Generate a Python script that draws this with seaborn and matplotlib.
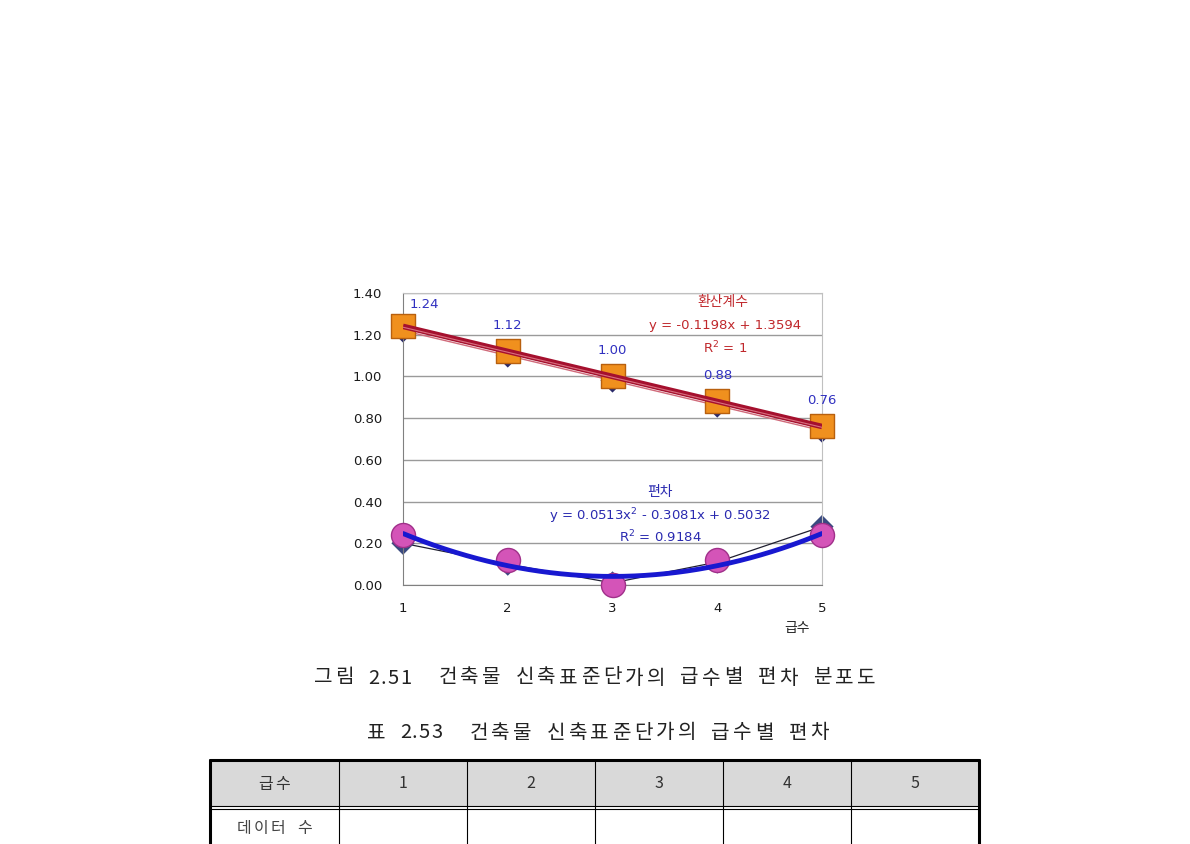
import numpy as np
import pandas as pd
import seaborn as sns
import matplotlib.pyplot as plt
from matplotlib.patches import Rectangle

# 급수별 값
grades = [1, 2, 3, 4, 5]
factor = [1.24, 1.12, 1.00, 0.88, 0.76]          # 환산계수 (orange squares)
factor_raw = [1.22, 1.10, 0.98, 0.86, 0.74]      # dark diamonds behind the squares
deviation = [0.24, 0.12, 0.00, 0.12, 0.24]       # 편차 (pink circles)
deviation_raw = [0.20, 0.10, 0.01, 0.11, 0.28]   # dark diamonds behind the circles
factor_labels = ["1.24", "1.12", "1.00", "0.88", "0.76"]

caption_fig = "그림 2.51  건축물 신축표준단가의 급수별 편차 분포도"
caption_tab = "표 2.53  건축물 신축표준단가의 급수별 편차"
table_head = ["급수", "1", "2", "3", "4", "5"]
table_row = ["데이터 수", "", "", "", "", ""]

sns.set_style("white")
plt.rcParams['font.family'] = ['Noto Sans CJK KR', 'DejaVu Sans']

df = pd.DataFrame({"급수": grades, "환산계수": factor, "f_raw": factor_raw,
                   "편차": deviation, "d_raw": deviation_raw})

fig = plt.figure(figsize=(11.9, 8.44), dpi=100)

# ---- page layer (captions + table) in pixel coordinates ----
page = fig.add_axes([0, 0, 1, 1])
page.set_xlim(0, 1190)
page.set_ylim(844, 0)
page.axis('off')


def tracked(s, x0, y, size, hangul=21, space=12, digit=13, dot=6, center=False, **kw):
    # the scanned document uses wide letter spacing, place glyph by glyph
    adv = []
    for ch in s:
        if ch == ' ':
            adv.append(space)
        elif ch == '.':
            adv.append(dot)
        elif ch.isdigit():
            adv.append(digit)
        else:
            adv.append(hangul)
    if center:
        x0 = x0 - sum(adv) / 2
    x = x0
    for ch, a in zip(s, adv):
        if ch != ' ':
            page.text(x + a / 2, y, ch, ha='center', va='center', fontsize=size, **kw)
        x += a


tracked(caption_fig, 312, 678, 14.5, hangul=21.8, color='#222222')
tracked(caption_tab, 365, 733, 14.5, hangul=21.8, color='#222222')

col_edges = [210, 339, 467, 595, 723, 851, 979]
page.add_patch(Rectangle((210, 760), 769, 46, facecolor='#d9d9d9', edgecolor='none'))
page.plot([210, 979], [760, 760], color='black', lw=2.2)
page.plot([210, 210], [760, 844], color='black', lw=2.2)
page.plot([979, 979], [760, 844], color='black', lw=2.2)
for xe in col_edges[1:-1]:
    page.plot([xe, xe], [760, 844], color='black', lw=0.8)
page.plot([210, 979], [806, 806], color='black', lw=0.8)
page.plot([210, 979], [809, 809], color='black', lw=0.8)
for i in range(len(table_head)):
    cx = (col_edges[i] + col_edges[i + 1]) / 2
    tracked(table_head[i], cx, 784, 11.5, hangul=17, space=10, digit=10,
            center=True, color='#333333')
    tracked(table_row[i], cx, 828, 11.5, hangul=17, space=10, digit=10,
            center=True, color='#444444')

# ---- chart ----
ax = fig.add_axes([403 / 1190, 259 / 844, 419 / 1190, 292 / 844])

# original series (diamonds + thin lines), mostly hidden behind the markers
sns.lineplot(data=df, x="급수", y="f_raw", ax=ax, color='#d06a7a', lw=1, zorder=2)
sns.scatterplot(data=df, x="급수", y="f_raw", ax=ax, marker='D', s=150,
                color='#2a2a6a', edgecolor='none', zorder=2, clip_on=False)
sns.lineplot(data=df, x="급수", y="d_raw", ax=ax, color='#202030', lw=0.9, zorder=2)
sns.scatterplot(data=df, x="급수", y="d_raw", ax=ax, marker='D', s=140,
                color='#3a4a80', edgecolor='none', zorder=2, clip_on=False)

# visible series
sns.scatterplot(data=df, x="급수", y="환산계수", ax=ax, marker='s', s=300,
                color='#f0901e', edgecolor='#b8600e', linewidth=1, zorder=3, clip_on=False)
sns.scatterplot(data=df, x="급수", y="편차", ax=ax, marker='o', s=300,
                color='#d454b8', edgecolor='#a0308a', linewidth=1, zorder=3, clip_on=False)

# trendlines
xs = np.linspace(1, 5, 200)
lin = np.polyfit(grades, factor, 1)
quad = np.polyfit(grades, deviation, 2)
ax.plot(xs, np.polyval(lin, xs), color='#a5102e', lw=4, zorder=4, solid_capstyle='butt')
ax.plot(xs, np.polyval(lin, xs) - 0.004, color='#d87080', lw=0.8, zorder=4)
ax.plot(xs, np.polyval(quad, xs), color='#1818d0', lw=3.5, zorder=4)

# data labels
for i, (g, v) in enumerate(zip(grades, factor)):
    off = (15, 16) if i == 0 else (0, 19)
    ax.annotate(factor_labels[i], (g, v), xytext=off, textcoords='offset points',
                ha='center', va='center', fontsize=9.5, color='#3030c0',
                family=['DejaVu Sans'], zorder=5)

# trendline annotations
red = '#c0282c'
blue = '#2a2ab0'
ax.text(4.055, 1.357, "환산계수", color=red, ha='center', va='center', fontsize=10)
ax.text(4.07, 1.242, "y = -0.1198x + 1.3594", color=red, ha='center', va='center',
        fontsize=9.5, family=['DejaVu Sans'])
ax.text(4.075, 1.136, "R$^2$ = 1", color=red, ha='center', va='center',
        fontsize=9.5, family=['DejaVu Sans'])
ax.text(3.454, 0.446, "편차", color=blue, ha='center', va='center', fontsize=10)
ax.text(3.454, 0.331, "y = 0.0513x$^2$ - 0.3081x + 0.5032", color=blue, ha='center',
        va='center', fontsize=9.5, family=['DejaVu Sans'])
ax.text(3.454, 0.230, "R$^2$ = 0.9184", color=blue, ha='center', va='center',
        fontsize=9.5, family=['DejaVu Sans'])

ax.set_xlim(1, 5)
ax.set_ylim(0, 1.4)
ax.set_xticks(grades)
ax.set_yticks(np.arange(0, 1.41, 0.2))
ax.set_yticklabels([f"{v:.2f}" for v in np.arange(0, 1.41, 0.2)])
ax.tick_params(axis='both', labelsize=9.5, length=3, color='#808080', labelcolor='#1a1a1a')
ax.tick_params(axis='y', pad=12)
ax.tick_params(axis='x', pad=9)
for lab in ax.get_xticklabels() + ax.get_yticklabels():
    lab.set_family(['DejaVu Sans'])
ax.grid(axis='y', color='#9a9a9a', lw=1)
ax.set_axisbelow(True)
ax.set_xlabel("")
ax.set_ylabel("")
for side in ['top', 'right']:
    ax.spines[side].set_color('#c0c0c0')
for side in ['left', 'bottom']:
    ax.spines[side].set_color('#808080')
ax.text(0.94, -0.148, "급수", transform=ax.transAxes, ha='center', va='center', fontsize=10)

fig.savefig("out.png", dpi=100)
